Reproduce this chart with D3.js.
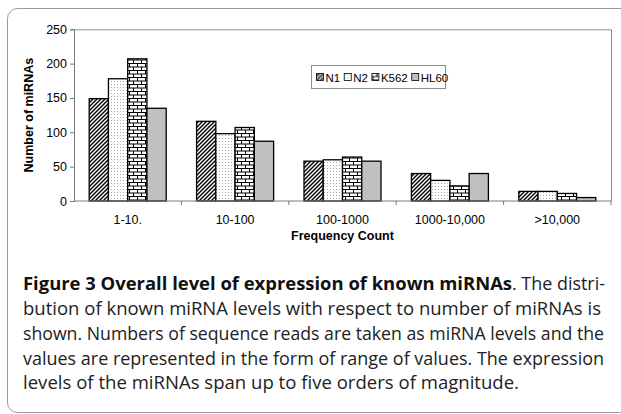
<!DOCTYPE html>
<meta charset="utf-8">
<html>
<body style="margin:0; background-color: white;">
<script src="https://d3js.org/d3.v7.min.js"></script>
<div id="my_dataviz"></div>
<script>

    // data
    var categories = ["1-10.", "10-100", "100-1000", "1000-10,000", ">10,000"];
    var series = ["N1", "N2", "K562", "HL60"];
    var N1   = [149, 116, 58, 40, 14];
    var N2   = [178, 98, 60, 30, 14];
    var K562 = [207, 107, 64, 22, 11];
    var HL60 = [135, 87, 58, 40, 5];
    var yTicks = [0, 50, 100, 150, 200, 250];

    var values = [N1, N2, K562, HL60];

    var width = 621, height = 414;
    var chartFont = "Liberation Sans, Arial, sans-serif";

    var svg = d3.select("#my_dataviz")
      .append("svg")
        .attr("width", width)
        .attr("height", height)
        .style("display", "block");

    // fill patterns
    var defs = svg.append("defs");

    var hatch = defs.append("pattern")
        .attr("id", "hatch")
        .attr("patternUnits", "userSpaceOnUse")
        .attr("width", 4).attr("height", 4);
    hatch.append("rect").attr("width", 4).attr("height", 4).attr("fill", "white");
    hatch.append("path")
        .attr("d", "M-1,1 l2,-2 M0,4 l4,-4 M3,5 l2,-2")
        .attr("stroke", "black").attr("stroke-width", 1.4);

    var dots = defs.append("pattern")
        .attr("id", "dots")
        .attr("patternUnits", "userSpaceOnUse")
        .attr("width", 3).attr("height", 3);
    dots.append("rect").attr("width", 3).attr("height", 3).attr("fill", "white");
    dots.append("rect").attr("width", 1).attr("height", 1).attr("fill", "#a8a8a8");

    var brick = defs.append("pattern")
        .attr("id", "brick")
        .attr("patternUnits", "userSpaceOnUse")
        .attr("width", 8).attr("height", 7);
    brick.append("rect").attr("width", 8).attr("height", 7).attr("fill", "white");
    brick.append("path")
        .attr("d", "M0,0.5 H8 M0,4 H8 M1.5,0.5 V4 M5.5,4 V7")
        .attr("stroke", "black").attr("stroke-width", 1);

    var fills = ["url(#hatch)", "url(#dots)", "url(#brick)", "#c0c0c0"];

    // outer rounded frame
    svg.append("rect")
        .attr("x", 7.5).attr("y", 8.5)
        .attr("width", 700).attr("height", 404)
        .attr("rx", 10)
        .attr("fill", "none")
        .attr("stroke", "#9a9a9a")
        .attr("stroke-width", 1);

    // plot area
    var plot = {left: 74, right: 611, top: 29.3, bottom: 201};

    var x = d3.scaleBand()
        .domain(categories)
        .range([plot.left, plot.right])
        .paddingInner(0.283)
        .paddingOuter(0.1415);

    var xs = d3.scaleBand()
        .domain(series)
        .range([0, x.bandwidth()]);

    var y = d3.scaleLinear()
        .domain([0, 250])
        .range([plot.bottom, plot.top]);

    // plot border (top and right)
    svg.append("path")
        .attr("d", "M" + plot.left + "," + (plot.top + 0.5) + " H" + (plot.right + 0.5) + " V" + plot.bottom)
        .attr("fill", "none")
        .attr("stroke", "#8c8c8c");

    // bars
    series.forEach(function(s, i) {
      svg.append("g")
        .selectAll("rect")
        .data(values[i])
        .enter()
        .append("rect")
          .attr("x", function(d, j) { return x(categories[j]) + xs(s); })
          .attr("y", function(d) { return y(d); })
          .attr("width", xs.bandwidth())
          .attr("height", function(d) { return y(0) - y(d); })
          .attr("fill", fills[i])
          .attr("stroke", "black")
          .attr("stroke-width", 1.3);
    });

    // y axis
    var yAxis = svg.append("g")
        .attr("transform", "translate(" + plot.left + ",0)")
        .call(d3.axisLeft(y).tickValues(yTicks).tickSize(4).tickPadding(3));
    yAxis.select(".domain").attr("stroke", "#7a7a7a");
    yAxis.selectAll(".tick line").attr("stroke", "#7a7a7a");
    yAxis.selectAll("text")
        .attr("font-family", chartFont)
        .attr("font-size", "12.5px")
        .attr("fill", "black");

    // x axis, ticks between categories
    var xAxis = svg.append("g")
        .attr("transform", "translate(0," + plot.bottom + ")");
    xAxis.append("line")
        .attr("x1", plot.left).attr("x2", plot.right + 0.5)
        .attr("stroke", "#7a7a7a");
    xAxis.selectAll(".xtick")
        .data(categories)
        .enter()
        .append("line")
          .attr("x1", function(d) { return x(d) - x.step() * x.paddingInner() / 2 + x.step(); })
          .attr("x2", function(d) { return x(d) - x.step() * x.paddingInner() / 2 + x.step(); })
          .attr("y1", 0).attr("y2", 4)
          .attr("stroke", "#7a7a7a");
    xAxis.selectAll(".xlab")
        .data(categories)
        .enter()
        .append("text")
          .attr("x", function(d) { return x(d) + x.bandwidth() / 2; })
          .attr("y", 23)
          .attr("text-anchor", "middle")
          .attr("font-family", chartFont)
          .attr("font-size", "12.5px")
          .text(function(d) { return d; });

    // axis titles
    svg.append("text")
        .attr("x", (plot.left + plot.right) / 2)
        .attr("y", 240)
        .attr("text-anchor", "middle")
        .attr("font-family", chartFont)
        .attr("font-weight", "bold")
        .attr("font-size", "12.5px")
        .text("Frequency Count");

    svg.append("text")
        .attr("transform", "translate(32.5," + ((plot.top + plot.bottom) / 2) + ") rotate(-90)")
        .attr("text-anchor", "middle")
        .attr("font-family", chartFont)
        .attr("font-weight", "bold")
        .attr("font-size", "12.5px")
        .text("Number of miRNAs");

    // legend
    var legend = svg.append("g").attr("transform", "translate(311.5,65.5)");
    legend.append("rect")
        .attr("width", 134).attr("height", 23)
        .attr("fill", "white")
        .attr("stroke", "#8c8c8c");
    var lx = 5;
    series.forEach(function(s, i) {
      legend.append("rect")
        .attr("x", lx).attr("y", 8)
        .attr("width", 7).attr("height", 7)
        .attr("fill", fills[i])
        .attr("stroke", "black")
        .attr("stroke-width", 0.8);
      var t = legend.append("text")
        .attr("x", lx + 9).attr("y", 16)
        .attr("font-family", chartFont)
        .attr("font-size", "11.5px")
        .text(s);
      lx += 9 + t.node().getComputedTextLength() + 4;
    });

    // caption
    var capFont = "Open Sans, Noto Sans, sans-serif";
    var capLines = [
      "bution of known miRNA levels with respect to number of miRNAs is",
      "shown. Numbers of sequence reads are taken as miRNA levels and the",
      "values are represented in the form of range of values. The expression",
      "levels of the miRNAs span up to five orders of magnitude."
    ];
    var capWidths = [578, 581, 581, 496];
    var capBase = [315, 340, 364.5, 389];

    svg.append("text")
        .attr("x", 23).attr("y", 290)
        .attr("font-family", capFont)
        .attr("font-weight", "bold")
        .attr("font-size", "17.5px")
        .attr("textLength", 489)
        .attr("lengthAdjust", "spacingAndGlyphs")
        .attr("fill", "#111")
        .text("Figure 3 Overall level of expression of known miRNAs");
    svg.append("text")
        .attr("x", 512).attr("y", 290)
        .attr("font-family", capFont)
        .attr("font-size", "17.5px")
        .attr("textLength", 93)
        .attr("lengthAdjust", "spacingAndGlyphs")
        .attr("fill", "#222")
        .text(". The distri-");

    capLines.forEach(function(line, i) {
      svg.append("text")
        .attr("x", 23).attr("y", capBase[i])
        .attr("font-family", capFont)
        .attr("font-size", "17.5px")
        .attr("textLength", capWidths[i])
        .attr("lengthAdjust", "spacingAndGlyphs")
        .attr("fill", "#222")
        .text(line);
    });

</script>
</body>
</html>
